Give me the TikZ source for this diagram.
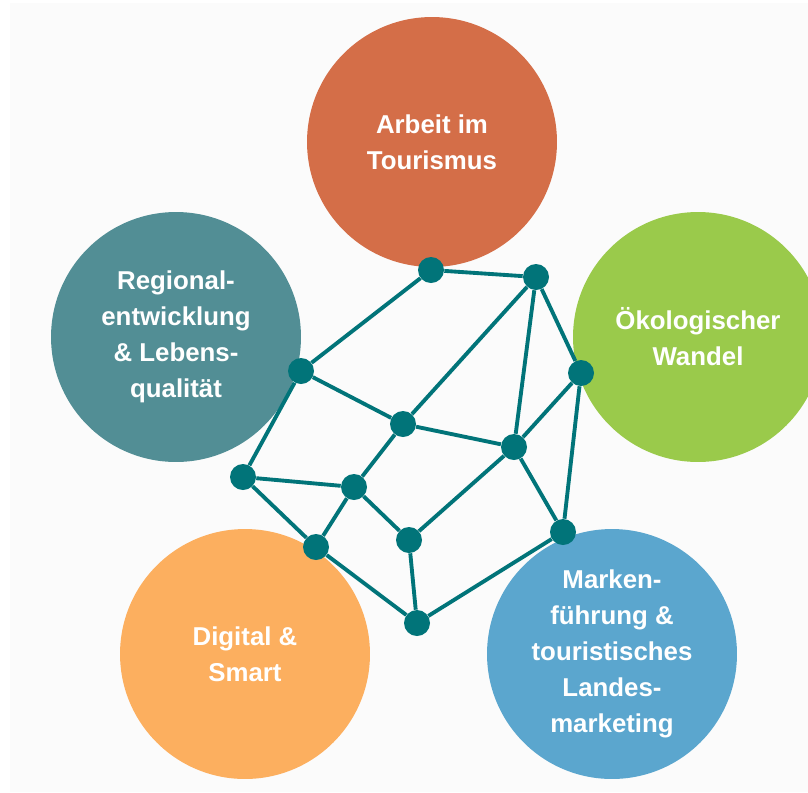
\documentclass[tikz,border=0pt]{standalone}
\usepackage{fontspec}
\setmainfont{Liberation Sans}
\usetikzlibrary{backgrounds}
\definecolor{cArbeit}{HTML}{D46E48}
\definecolor{cOeko}{HTML}{9ACA4B}
\definecolor{cRegio}{HTML}{528E95}
\definecolor{cDigi}{HTML}{FCAF5F}
\definecolor{cMarke}{HTML}{5BA6CE}
\definecolor{cNet}{HTML}{017479}
\definecolor{cBg}{HTML}{FBFBFB}
\pgfdeclarelayer{links}
\pgfsetlayers{background,links,main}
\tikzset{
  topic/.style={circle, minimum size=5cm, inner sep=0pt, text=white, align=center,
    font=\fontsize{14.7pt}{20.5pt}\selectfont\bfseries},
  dot/.style={circle, fill=cNet, minimum size=0.52cm, inner sep=0pt},
  link/.style={draw=cNet, line width=2.2pt}
}
\begin{document}
\begin{tikzpicture}[x=0.02cm,y=-0.02cm]
\useasboundingbox (0,0) rectangle (808,792);
\begin{pgfonlayer}{background}
\clip (0,0) rectangle (808,792);
\fill[white] (0,0) rectangle (808,792);
\fill[cBg] (10,3) rectangle (808,792);
\node[topic, fill=cArbeit] (arbeit) at (432,142) {Arbeit im\\Tourismus};
\node[topic, fill=cOeko] (oeko) at (698,337) {Ökologischer\\Wandel};
\node[topic, fill=cRegio] (regio) at (176,337) {Regional-\\entwicklung\\\& Lebens-\\qualität};
\node[topic, fill=cDigi] (digi) at (245,654) {Digital \&\\Smart};
\node[topic, fill=cMarke] (marke) at (612,654) {Marken-\\führung \&\\touristisches\\Landes-\\marketing};
\end{pgfonlayer}
% network nodes
\node[dot] (A) at (431,270) {};
\node[dot] (B) at (536,277) {};
\node[dot] (C) at (581,373) {};
\node[dot] (D) at (301,371) {};
\node[dot] (E) at (403,424) {};
\node[dot] (F) at (514,447) {};
\node[dot] (G) at (243,477) {};
\node[dot] (H) at (354,487) {};
\node[dot] (I) at (409,540) {};
\node[dot] (J) at (563,532) {};
\node[dot] (K) at (316,547) {};
\node[dot] (L) at (417,623) {};
% links
\begin{pgfonlayer}{links}
\path[link] (A) -- (B)
  (A) -- (D)
  (B) -- (E)
  (B) -- (F)
  (B) -- (C)
  (C) -- (F)
  (C) -- (J)
  (D) -- (E)
  (D) -- (G)
  (E) -- (F)
  (E) -- (H)
  (F) -- (I)
  (F) -- (J)
  (G) -- (H)
  (G) -- (K)
  (H) -- (K)
  (H) -- (I)
  (I) -- (L)
  (K) -- (L)
  (L) -- (J);
\end{pgfonlayer}
\end{tikzpicture}
\end{document}
